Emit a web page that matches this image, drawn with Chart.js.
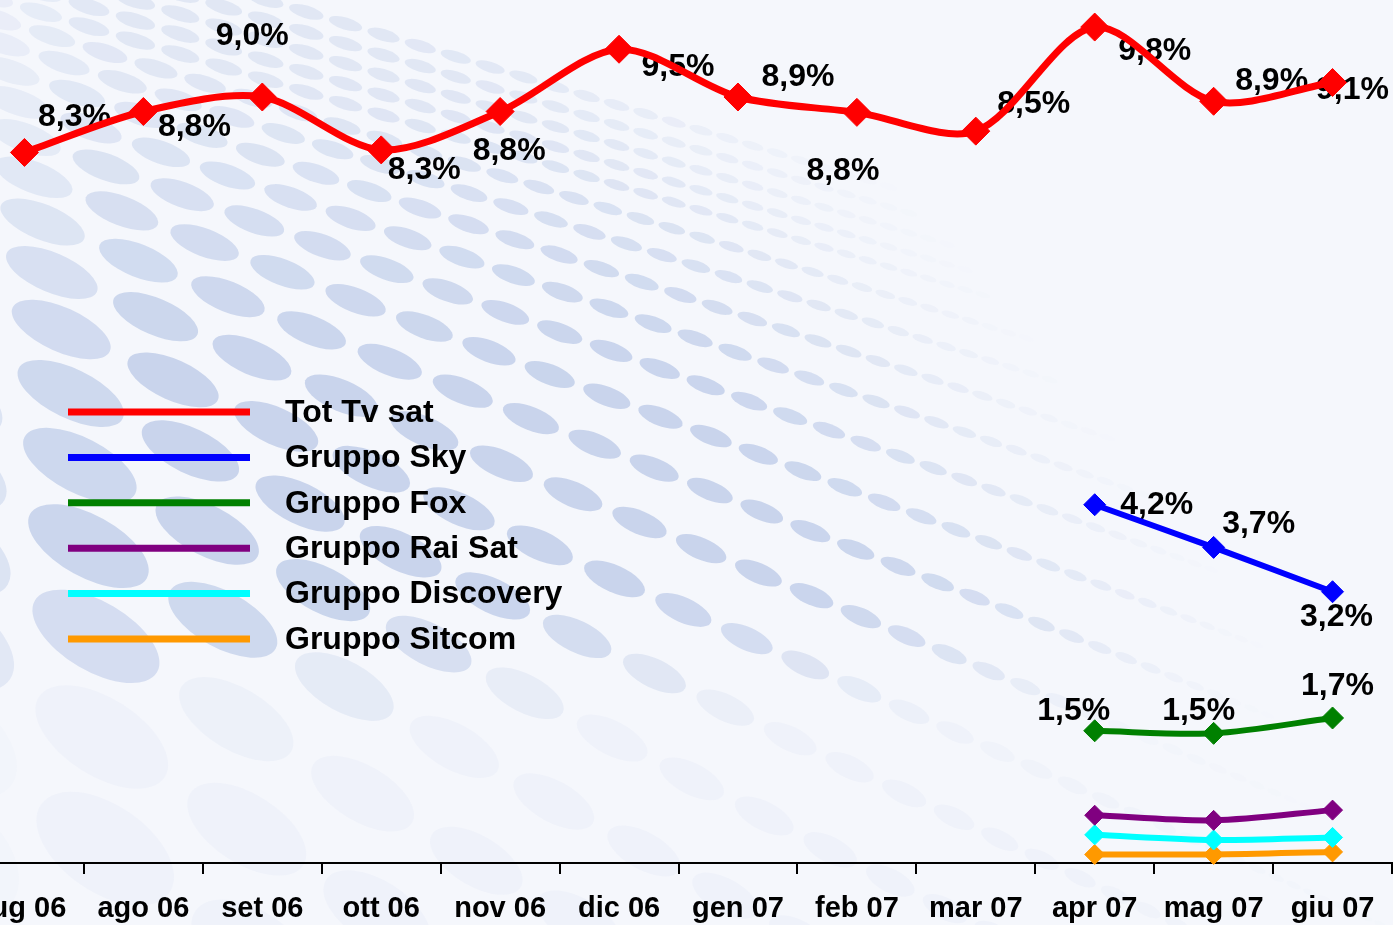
<!DOCTYPE html>
<html>
<head>
<meta charset="utf-8">
<script src="https://cdn.jsdelivr.net/npm/chart.js@4.4.1/dist/chart.umd.min.js"></script>
<style>
  html, body { margin: 0; padding: 0; overflow: hidden; background: #f5f7fc; }
  #wrap { position: absolute; left: -35px; top: 0; width: 1430px; height: 925px; }
</style>
</head>
<body>
<div id="wrap"><canvas id="chart"></canvas></div>
<script>
// DATA
const months = ["lug 06", "ago 06", "set 06", "ott 06", "nov 06", "dic 06",
  "gen 07", "feb 07", "mar 07", "apr 07", "mag 07", "giu 07"];

const totTvSat = [8.33, 8.81, 8.98, 8.36, 8.81, 9.54, 8.98, 8.80, 8.58, 9.80, 8.93, 9.15];
const totTvSatText = ["8,3%", "8,8%", "9,0%", "8,3%", "8,8%", "9,5%", "8,9%", "8,8%", "8,5%", "9,8%", "8,9%", "9,1%"];

const gruppoSky = [null, null, null, null, null, null, null, null, null, 4.20, 3.70, 3.18];
const gruppoSkyText = [null, null, null, null, null, null, null, null, null, "4,2%", "3,7%", "3,2%"];

const gruppoFox = [null, null, null, null, null, null, null, null, null, 1.55, 1.52, 1.70];
const gruppoFoxText = [null, null, null, null, null, null, null, null, null, "1,5%", "1,5%", "1,7%"];

const gruppoRaiSat = [null, null, null, null, null, null, null, null, null, 0.56, 0.50, 0.62];
const gruppoDiscovery = [null, null, null, null, null, null, null, null, null, 0.33, 0.27, 0.30];
const gruppoSitcom = [null, null, null, null, null, null, null, null, null, 0.10, 0.10, 0.13];

// where each value label sits, relative to its point (px)
const totLabelShift = [[50, -35], [51, 16], [-10, -61], [43, 20], [9, 40], [59, 18],
  [60, -20], [-14, 59], [58, -27], [60, 24], [58, -20], [20, 8]];
const skyLabelShift = [null, null, null, null, null, null, null, null, null, [62, 0], [45, -23], [4, 25]];
const foxLabelShift = [null, null, null, null, null, null, null, null, null, [-21, -20], [-15, -22], [5, -32]];

const FONT = "'Liberation Sans', Arial, sans-serif";
const SHIFT_X = 35; // canvas sits 35px left of the page

// BACKGROUND (dotted perspective pattern)
function ramp(a, b, v) {
  let t = (v - a) / (b - a);
  t = Math.max(0, Math.min(1, t));
  return t * t * (3 - 2 * t);
}

function drawPattern(ctx) {
  ctx.fillStyle = "#f5f7fc";
  ctx.fillRect(0, 0, 1393, 925);
  let y0 = -80;
  while (y0 < 1000) {
    const b0 = 8 + 0.05 * Math.max(y0, 0);
    const k = 0.3 + 0.0005 * Math.max(y0, 0);
    const elong = 2.8 - 0.0013 * Math.max(y0, 0);
    const rot = Math.atan(k);
    let x = -60;
    while (x < 1450) {
      const f = Math.max(0.12, 1 - x / 1500);
      const b = b0 * f;
      const a = b * elong;
      const y = y0 + k * x;
      const A = 0.42 * (0.45 + 0.55 * ramp(50, 400, y)) * (1 - 0.88 * ramp(580, 740, y));
      const xs = 350 + 0.8 * y;
      const R = 1 - ramp(xs, xs + 450, x);
      const L = 0.55 + 0.45 * ramp(-20, 120, x);
      const alpha = A * R * L;
      if (alpha > 0.01 && y < 960 && y > -60) {
        ctx.fillStyle = "rgba(140,165,215," + alpha.toFixed(3) + ")";
        ctx.beginPath();
        ctx.ellipse(x, y, a, b, rot, 0, Math.PI * 2);
        ctx.fill();
      }
      x += 2.3 * a * Math.cos(rot);
    }
    y0 += 2.5 * b0;
  }
}

const backgroundPlugin = {
  id: "backgroundPlugin",
  beforeDraw(chart) {
    const ctx = chart.ctx;
    ctx.save();
    ctx.translate(SHIFT_X, 0);
    drawPattern(ctx);
    ctx.restore();
  }
};

// VALUE LABELS + LEGEND (drawn under the lines)
const labelsPlugin = {
  id: "labelsPlugin",
  beforeDatasetsDraw(chart) {
    const ctx = chart.ctx;
    ctx.save();
    ctx.fillStyle = "#000";
    ctx.font = "bold 32px " + FONT;
    ctx.textAlign = "center";
    ctx.textBaseline = "middle";
    chart.data.datasets.forEach((ds, di) => {
      if (!ds.valueText) return;
      const meta = chart.getDatasetMeta(di);
      ds.valueText.forEach((txt, i) => {
        if (!txt) return;
        const pt = meta.data[i];
        const sh = ds.labelShift[i];
        ctx.fillText(txt, pt.x + sh[0], pt.y + sh[1]);
      });
    });

    // legend
    ctx.translate(SHIFT_X, 0);
    ctx.textAlign = "left";
    ctx.font = "bold 32px " + FONT;
    chart.data.datasets.forEach((ds, i) => {
      const y = 412 + i * 45.4;
      ctx.strokeStyle = ds.borderColor;
      ctx.lineWidth = 7;
      ctx.beginPath();
      ctx.moveTo(68, y);
      ctx.lineTo(250, y);
      ctx.stroke();
      ctx.fillStyle = "#000";
      ctx.fillText(ds.label, 285, y + 1);
    });
    ctx.restore();
  }
};

function series(label, values, color, width, radius) {
  return {
    label: label,
    data: values,
    borderColor: color,
    backgroundColor: color,
    borderWidth: width,
    pointStyle: "rectRot",
    pointRadius: radius,
    pointBorderWidth: 1,
    pointBackgroundColor: color,
    pointBorderColor: color,
    tension: 0.3,
    spanGaps: false,
    clip: false
  };
}

const totSet = series("Tot Tv sat", totTvSat, "#ff0000", 7, 14);
totSet.valueText = totTvSatText;
totSet.labelShift = totLabelShift;
const skySet = series("Gruppo Sky", gruppoSky, "#0000ff", 6, 11);
skySet.valueText = gruppoSkyText;
skySet.labelShift = skyLabelShift;
const foxSet = series("Gruppo Fox", gruppoFox, "#008000", 6, 11);
foxSet.valueText = gruppoFoxText;
foxSet.labelShift = foxLabelShift;
const raiSet = series("Gruppo Rai Sat", gruppoRaiSat, "#800080", 6, 10);
const discoverySet = series("Gruppo Discovery", gruppoDiscovery, "#00ffff", 6, 10);
const sitcomSet = series("Gruppo Sitcom", gruppoSitcom, "#ff9900", 6, 10);

new Chart(document.getElementById("chart"), {
  type: "line",
  data: {
    labels: months,
    datasets: [totSet, skySet, foxSet, raiSet, discoverySet, sitcomSet]
  },
  options: {
    responsive: true,
    maintainAspectRatio: false,
    animation: false,
    events: [],
    layout: { autoPadding: false, padding: { top: 10, right: 3, left: 0, bottom: 0 } },
    plugins: {
      legend: { display: false },
      tooltip: { enabled: false }
    },
    scales: {
      x: {
        offset: true,
        grid: {
          offset: true,
          drawOnChartArea: false,
          drawTicks: true,
          tickLength: 11,
          color: "#000",
          lineWidth: 2
        },
        border: { display: true, color: "#000", width: 2 },
        ticks: {
          color: "#000",
          font: { family: FONT, size: 29, weight: "bold" },
          padding: 18,
          autoSkip: false,
          maxRotation: 0
        },
        afterFit(scale) {
          scale.height = 62;
          scale.paddingLeft = 0;
          scale.paddingRight = 0;
        }
      },
      y: { display: false, min: 0, max: 10 }
    }
  },
  plugins: [backgroundPlugin, labelsPlugin]
});
</script>
</body>
</html>
